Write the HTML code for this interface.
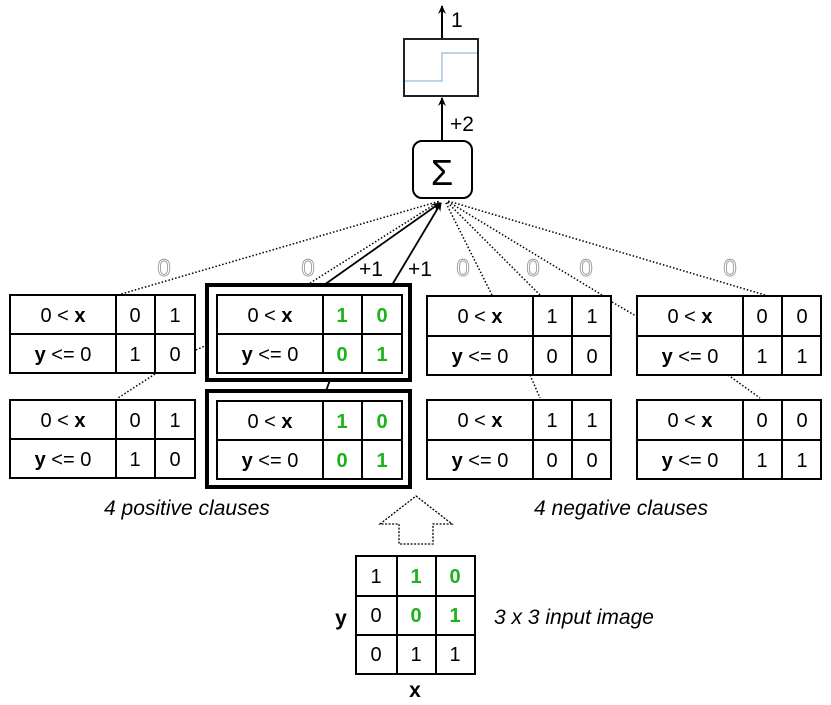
<!DOCTYPE html>
<html><head><meta charset="utf-8"><style>
body{margin:0;background:#fff}
svg{display:block;font-family:"Liberation Sans",sans-serif}
</style></head><body>
<svg width="831" height="705" viewBox="0 0 831 705" xmlns="http://www.w3.org/2000/svg">
<defs>
<marker id="ah" markerWidth="10" markerHeight="10" refX="8" refY="5" orient="auto" markerUnits="userSpaceOnUse">
<path d="M0,1 L9,5 L0,9 L3,5 Z" fill="#000"/></marker>
</defs>
<line x1="442" y1="39" x2="442" y2="6" stroke="#000" stroke-width="2" marker-end="url(#ah)"/>
<text x="451" y="27" font-size="21">1</text>
<rect x="404" y="39" width="74" height="57" fill="#fff" stroke="#222" stroke-width="2"/>
<polyline points="405,81 442,81 442,53 477,53" fill="none" stroke="#a8c4e0" stroke-width="1.5"/>
<line x1="442" y1="141" x2="442" y2="98" stroke="#000" stroke-width="2" marker-end="url(#ah)"/>
<text x="450" y="131" font-size="21">+2</text>
<rect x="413" y="141" width="59" height="57" rx="9" fill="#fff" stroke="#000" stroke-width="2"/>
<text x="442" y="185" font-size="36" text-anchor="middle">Σ</text>
<g stroke="#000" stroke-width="1.5" stroke-dasharray="1.5,2" fill="none">
<line x1="118" y1="295" x2="440" y2="201"/>
<line x1="307" y1="285" x2="440" y2="201"/>
<line x1="492" y1="295" x2="445" y2="201"/>
<line x1="540" y1="295" x2="446" y2="201"/>
<line x1="602" y1="295" x2="447" y2="201"/>
<line x1="765" y1="295" x2="448" y2="201"/>
<line x1="196" y1="350" x2="207" y2="345"/>
<line x1="155" y1="374" x2="118" y2="398"/>
<line x1="530" y1="375" x2="540" y2="398"/>
<line x1="728" y1="375" x2="760" y2="398"/>
<line x1="612" y1="302" x2="636" y2="316"/>
</g>
<line x1="324" y1="285" x2="440" y2="203" stroke="#000" stroke-width="1.8" marker-end="url(#ah)"/>
<line x1="392" y1="285" x2="441" y2="203" stroke="#000" stroke-width="1.8" marker-end="url(#ah)"/>
<line x1="330" y1="380" x2="326" y2="391" stroke="#000" stroke-width="1.8"/>
<g font-size="24" fill="#fff" stroke="#999" stroke-width="0.9" text-anchor="middle">
<text x="164" y="276">0</text><text x="308" y="276">0</text><text x="463" y="276">0</text>
<text x="533" y="276">0</text><text x="586" y="276">0</text><text x="730" y="276">0</text>
</g>
<g font-size="21" text-anchor="middle"><text x="371" y="276">+1</text><text x="420" y="276">+1</text></g>
<g stroke="#000" fill="#fff">
<rect x="207" y="285" width="203" height="95" stroke-width="4"/>
<rect x="207" y="391" width="203" height="96" stroke-width="4"/>
</g>
<g font-size="20" text-anchor="middle">
<g transform="translate(10,295)">
<rect x="0" y="0" width="185" height="78" fill="#fff" stroke="#000" stroke-width="2"/>
<line x1="0" y1="39" x2="185" y2="39" stroke="#000" stroke-width="2"/>
<line x1="106" y1="0" x2="106" y2="78" stroke="#000" stroke-width="2"/>
<line x1="145" y1="0" x2="145" y2="78" stroke="#000" stroke-width="2"/>
<text x="53" y="27">0 &lt; <tspan font-weight="bold">x</tspan></text>
<text x="53" y="66"><tspan font-weight="bold">y</tspan> &lt;= 0</text>
<text x="125" y="27">0</text><text x="165" y="27">1</text>
<text x="125" y="66">1</text><text x="165" y="66">0</text>
</g>
<g transform="translate(10,400)">
<rect x="0" y="0" width="185" height="78" fill="#fff" stroke="#000" stroke-width="2"/>
<line x1="0" y1="39" x2="185" y2="39" stroke="#000" stroke-width="2"/>
<line x1="106" y1="0" x2="106" y2="78" stroke="#000" stroke-width="2"/>
<line x1="145" y1="0" x2="145" y2="78" stroke="#000" stroke-width="2"/>
<text x="53" y="27">0 &lt; <tspan font-weight="bold">x</tspan></text>
<text x="53" y="66"><tspan font-weight="bold">y</tspan> &lt;= 0</text>
<text x="125" y="27">0</text><text x="165" y="27">1</text>
<text x="125" y="66">1</text><text x="165" y="66">0</text>
</g>
<g transform="translate(217,295)">
<rect x="0" y="0" width="185" height="78" fill="#fff" stroke="#000" stroke-width="2"/>
<line x1="0" y1="39" x2="185" y2="39" stroke="#000" stroke-width="2"/>
<line x1="106" y1="0" x2="106" y2="78" stroke="#000" stroke-width="2"/>
<line x1="145" y1="0" x2="145" y2="78" stroke="#000" stroke-width="2"/>
<text x="53" y="27">0 &lt; <tspan font-weight="bold">x</tspan></text>
<text x="53" y="66"><tspan font-weight="bold">y</tspan> &lt;= 0</text>
<g fill="#1db31d" font-weight="bold"><text x="125" y="27">1</text><text x="165" y="27">0</text>
<text x="125" y="66">0</text><text x="165" y="66">1</text></g>
</g>
<g transform="translate(217,401)">
<rect x="0" y="0" width="185" height="78" fill="#fff" stroke="#000" stroke-width="2"/>
<line x1="0" y1="39" x2="185" y2="39" stroke="#000" stroke-width="2"/>
<line x1="106" y1="0" x2="106" y2="78" stroke="#000" stroke-width="2"/>
<line x1="145" y1="0" x2="145" y2="78" stroke="#000" stroke-width="2"/>
<text x="53" y="27">0 &lt; <tspan font-weight="bold">x</tspan></text>
<text x="53" y="66"><tspan font-weight="bold">y</tspan> &lt;= 0</text>
<g fill="#1db31d" font-weight="bold"><text x="125" y="27">1</text><text x="165" y="27">0</text>
<text x="125" y="66">0</text><text x="165" y="66">1</text></g>
</g>
<g transform="translate(427,296)">
<rect x="0" y="0" width="184" height="79" fill="#fff" stroke="#000" stroke-width="2"/>
<line x1="0" y1="40" x2="184" y2="40" stroke="#000" stroke-width="2"/>
<line x1="106" y1="0" x2="106" y2="79" stroke="#000" stroke-width="2"/>
<line x1="145" y1="0" x2="145" y2="79" stroke="#000" stroke-width="2"/>
<text x="53" y="27">0 &lt; <tspan font-weight="bold">x</tspan></text>
<text x="53" y="67"><tspan font-weight="bold">y</tspan> &lt;= 0</text>
<text x="125" y="27">1</text><text x="165" y="27">1</text>
<text x="125" y="67">0</text><text x="165" y="67">0</text>
</g>
<g transform="translate(427,400)">
<rect x="0" y="0" width="184" height="79" fill="#fff" stroke="#000" stroke-width="2"/>
<line x1="0" y1="40" x2="184" y2="40" stroke="#000" stroke-width="2"/>
<line x1="106" y1="0" x2="106" y2="79" stroke="#000" stroke-width="2"/>
<line x1="145" y1="0" x2="145" y2="79" stroke="#000" stroke-width="2"/>
<text x="53" y="27">0 &lt; <tspan font-weight="bold">x</tspan></text>
<text x="53" y="67"><tspan font-weight="bold">y</tspan> &lt;= 0</text>
<text x="125" y="27">1</text><text x="165" y="27">1</text>
<text x="125" y="67">0</text><text x="165" y="67">0</text>
</g>
<g transform="translate(637,296)">
<rect x="0" y="0" width="184" height="79" fill="#fff" stroke="#000" stroke-width="2"/>
<line x1="0" y1="40" x2="184" y2="40" stroke="#000" stroke-width="2"/>
<line x1="106" y1="0" x2="106" y2="79" stroke="#000" stroke-width="2"/>
<line x1="145" y1="0" x2="145" y2="79" stroke="#000" stroke-width="2"/>
<text x="53" y="27">0 &lt; <tspan font-weight="bold">x</tspan></text>
<text x="53" y="67"><tspan font-weight="bold">y</tspan> &lt;= 0</text>
<text x="125" y="27">0</text><text x="165" y="27">0</text>
<text x="125" y="67">1</text><text x="165" y="67">1</text>
</g>
<g transform="translate(637,400)">
<rect x="0" y="0" width="184" height="79" fill="#fff" stroke="#000" stroke-width="2"/>
<line x1="0" y1="40" x2="184" y2="40" stroke="#000" stroke-width="2"/>
<line x1="106" y1="0" x2="106" y2="79" stroke="#000" stroke-width="2"/>
<line x1="145" y1="0" x2="145" y2="79" stroke="#000" stroke-width="2"/>
<text x="53" y="27">0 &lt; <tspan font-weight="bold">x</tspan></text>
<text x="53" y="67"><tspan font-weight="bold">y</tspan> &lt;= 0</text>
<text x="125" y="27">0</text><text x="165" y="27">0</text>
<text x="125" y="67">1</text><text x="165" y="67">1</text>
</g>
</g>
<g font-size="21" font-style="italic">
<text x="104" y="515">4 positive clauses</text>
<text x="534" y="515">4 negative clauses</text>
<text x="494" y="624">3 x 3 input image</text>
</g>
<polygon points="416,496 452,524 433,524 433,544 399,544 399,524 380,524" fill="#fff" stroke="#000" stroke-width="1.3" stroke-dasharray="2,1.5"/>
<g stroke="#000" stroke-width="2" fill="#fff">
<rect x="356" y="556" width="119" height="118"/>
<line x1="397" y1="556" x2="397" y2="674"/><line x1="436" y1="556" x2="436" y2="674"/>
<line x1="356" y1="596" x2="475" y2="596"/><line x1="356" y1="635" x2="475" y2="635"/>
</g>
<g font-size="20" text-anchor="middle">
<text x="376" y="583">1</text><text x="416" y="583" fill="#1db31d" font-weight="bold">1</text><text x="455" y="583" fill="#1db31d" font-weight="bold">0</text>
<text x="376" y="622">0</text><text x="416" y="622" fill="#1db31d" font-weight="bold">0</text><text x="455" y="622" fill="#1db31d" font-weight="bold">1</text>
<text x="376" y="661">0</text><text x="416" y="661">1</text><text x="455" y="661">1</text>
<text x="341" y="625" font-weight="bold" font-size="21">y</text>
<text x="415" y="697" font-weight="bold" font-size="21">x</text>
</g>
</svg>
</body></html>
